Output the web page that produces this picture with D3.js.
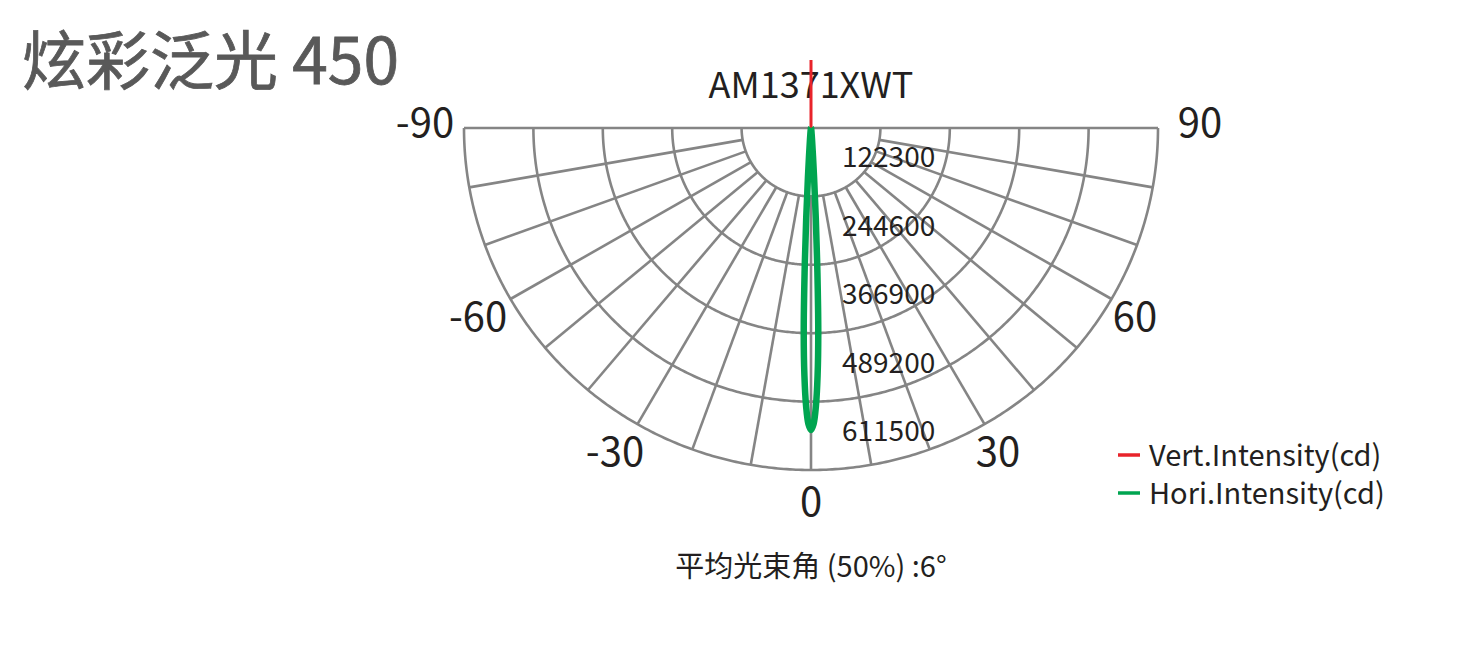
<!DOCTYPE html>
<html>
<head>
<meta charset="utf-8">
<script src="https://cdn.jsdelivr.net/npm/d3@7"></script>
<style>
  html, body { margin: 0; padding: 0; background: #ffffff; }
  svg { display: block; }
  text { font-family: "Noto Sans CJK SC", "Noto Sans", sans-serif; }
</style>
</head>
<body>
<svg id="chart" width="1483" height="666"></svg>
<script>
// ---------- data ----------
const pageTitle = "炫彩泛光 450";
const chartTitle = "AM1371XWT";
const footnote = "平均光束角 (50%) :6°";
const ringValues = [122300, 244600, 366900, 489200, 611500];
const angleTicks = [-90, -60, -30, 0, 30, 60, 90];
const spokeAngles = [-80, -70, -60, -50, -40, -30, -20, -10, 0, 10, 20, 30, 40, 50, 60, 70, 80];
const seriesNames = ["Vert.Intensity(cd)", "Hori.Intensity(cd)"];

// Vertical intensity (red), angle in degrees (0 = down), value in cd
const vertAngles = [-90, -60, -30, -20, -15, -10, -8, -6, -5, -4, -3.5, -3, -2.5, -2, -1.5, -1, -0.5, 0, 0.5, 1, 1.5, 2, 2.5, 3, 3.5, 4, 5, 6, 8, 10, 15, 20, 30, 60, 90, 180];
const vertValues = [0, 0, 300, 700, 1300, 2700, 5000, 11000, 23000, 56000, 98000, 175000, 282000, 390000, 458000, 500000, 522000, 530000, 520000, 492000, 440000, 368000, 266000, 163000, 90000, 50000, 21000, 10000, 5000, 2600, 1300, 700, 300, 0, 0, 121600];

// Horizontal intensity (green)
const horiAngles = [-90, -60, -30, -20, -15, -10, -8, -6, -5, -4, -3.5, -3, -2.5, -2, -1.5, -1, -0.5, 0, 0.5, 1, 1.5, 2, 2.5, 3, 3.5, 4, 5, 6, 8, 10, 15, 20, 30, 60, 90];
const horiValues = [0, 0, 300, 600, 1400, 2700, 5000, 11000, 21000, 50000, 89000, 161000, 259000, 367000, 443000, 497000, 529000, 540000, 529000, 497000, 443000, 367000, 259000, 161000, 89000, 50000, 21000, 11000, 5000, 2700, 1400, 600, 300, 0, 0];

// ---------- layout ----------
const svg = d3.select("#chart");
const cx = 811, cy = 128, rx = 347, ry = 342;
const gridColor = "#858585";
const red = "#e8232a", green = "#00a550";

const rScale = d3.scaleLinear().domain([0, d3.max(ringValues)]).range([0, 1]);
const rad = d => d * Math.PI / 180;
const px = (deg, v) => cx + rx * rScale(v) * Math.sin(rad(deg));
const py = (deg, v) => cy + ry * rScale(v) * Math.cos(rad(deg));

// page title
svg.append("text").attr("x", 22).attr("y", 84)
  .attr("font-size", 64).attr("fill", "#595959")
  .attr("stroke", "#595959").attr("stroke-width", 0.8)
  .text(pageTitle);

// chart title
svg.append("text").attr("x", cx).attr("y", 98).attr("text-anchor", "middle")
  .attr("font-size", 36).attr("fill", "#231f20").text(chartTitle);

const grid = svg.append("g").attr("fill", "none").attr("stroke", gridColor).attr("stroke-width", 2.6);

// rings (half ellipses)
const arcLine = d3.line().x(d => d[0]).y(d => d[1]);
ringValues.forEach(v => {
  const pts = d3.range(-90, 90.01, 0.5).map(a => [px(a, v), py(a, v)]);
  grid.append("path").attr("d", arcLine(pts));
});
// horizontal diameter
grid.append("line")
  .attr("x1", px(-90, ringValues[4])).attr("y1", cy)
  .attr("x2", px(90, ringValues[4])).attr("y2", cy);
// spokes
spokeAngles.forEach(a => {
  grid.append("line")
    .attr("x1", px(a, ringValues[0])).attr("y1", py(a, ringValues[0]))
    .attr("x2", px(a, ringValues[4])).attr("y2", py(a, ringValues[4]));
});

// ring labels
const ringStep = ry * rScale(ringValues[0]);
svg.append("g").selectAll("text").data(ringValues).join("text")
  .attr("x", 842)
  .attr("y", d => py(0, d) - ringStep * 0.6)
  .attr("dominant-baseline", "central")
  .attr("font-size", 28).attr("fill", "#231f20")
  .text(d => d);

// angle labels
const labelX = d => {
  if (d === -90) return cx - (rx + 39);
  if (d === 90) return cx + (rx + 42);
  return cx + (rx + 27) * Math.sin(rad(d)) - (d < 0 ? 9 : 0);
};
const labelY = d => Math.abs(d) === 90 ? cy - 8 : cy + (ry + 29) * Math.cos(rad(d));
svg.append("g").selectAll("text").data(angleTicks).join("text")
  .attr("x", labelX)
  .attr("y", labelY)
  .attr("text-anchor", "middle").attr("dominant-baseline", "central")
  .attr("font-size", 40).attr("fill", "#231f20")
  .text(d => d);

// curves
const polarLine = d3.line()
  .x(d => px(d.a, d.v)).y(d => py(d.a, d.v))
  .curve(d3.curveCatmullRom.alpha(0.5));

const vertData = vertAngles.map((a, i) => ({a, v: vertValues[i]}));
const horiData = horiAngles.map((a, i) => ({a, v: horiValues[i]}));

svg.append("path").attr("d", polarLine(vertData.slice(0, -1)))
  .attr("fill", "none").attr("stroke", red).attr("stroke-width", 2.5).attr("stroke-linejoin", "round");
// trailing segment to the rear spike
svg.append("path").attr("d", d3.line().x(d => px(d.a, d.v)).y(d => py(d.a, d.v))(vertData.slice(-2)))
  .attr("fill", "none").attr("stroke", red).attr("stroke-width", 3);

svg.append("path").attr("d", polarLine(horiData))
  .attr("fill", "none").attr("stroke", green).attr("stroke-width", 6.5).attr("stroke-linejoin", "round");

// legend
const legend = svg.append("g");
[red, green].forEach((c, i) => {
  const y = 455 + i * 38;
  legend.append("line").attr("x1", 1118).attr("x2", 1140).attr("y1", y).attr("y2", y)
    .attr("stroke", c).attr("stroke-width", 3.5);
  legend.append("text").attr("x", 1149).attr("y", y + 11)
    .attr("font-size", 29).attr("fill", "#231f20").text(seriesNames[i]);
});

// footnote
svg.append("text").attr("x", cx).attr("y", 577).attr("text-anchor", "middle")
  .attr("font-size", 29).attr("fill", "#231f20").text(footnote);
</script>
</body>
</html>
